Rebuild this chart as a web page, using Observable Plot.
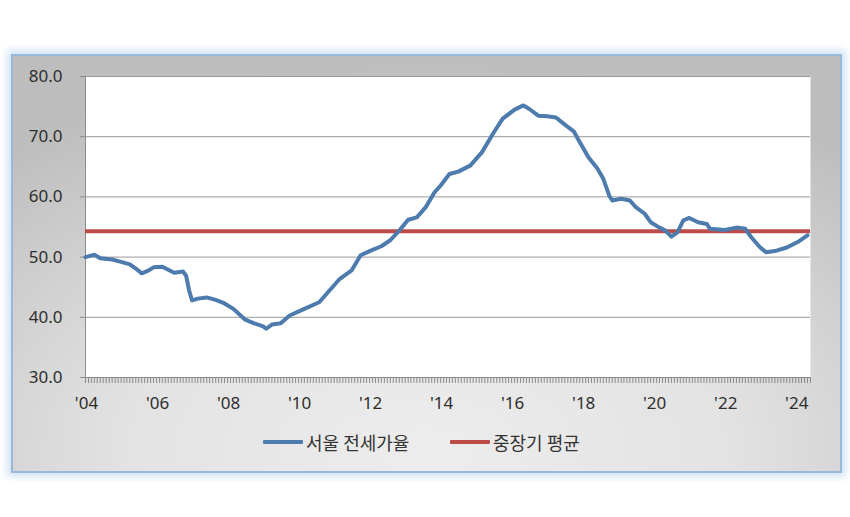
<!DOCTYPE html>
<html>
<head>
<meta charset="utf-8">
<script src="https://cdn.jsdelivr.net/npm/d3@7"></script>
<script src="https://cdn.jsdelivr.net/npm/@observablehq/plot@0.6"></script>
<style>
  html, body { margin: 0; padding: 0; background: #ffffff; }
  body { width: 850px; height: 517px; position: relative; overflow: hidden; font-family: "Noto Sans", "Noto Sans CJK KR", sans-serif; }
  #frame {
    position: absolute; left: 11px; top: 54px; width: 827px; height: 415px;
    border: 2px solid #9ab7dc;
    box-shadow: 0 0 8px 4px #d3e3f5;
    background: radial-gradient(ellipse 80% 95% at 50% 96%, #ededed 0%, #e3e3e3 45%, #c7c7c7 85%, #bdbdbd 100%);
  }
  #chart { position: absolute; left: 0; top: 50px; }
  .legend { position: absolute; top: 430px; height: 24px; display: flex; align-items: center; font-family: "Noto Sans CJK KR", sans-serif; font-size: 18px; color: #333; }
  .swatch { width: 40px; height: 4px; margin-right: 3px; border-radius: 1px; }
</style>
</head>
<body>
<div id="frame"></div>
<div id="chart"></div>
<div id="legend"></div>
<script>
// Seoul jeonse-to-sale price ratio (%)
const dates = [
  "2004-01","2004-04","2004-06","2004-10","2005-01","2005-04","2005-06","2005-08","2005-10","2005-12",
  "2006-03","2006-05","2006-07","2006-10","2006-11","2006-12","2007-01","2007-03","2007-06","2007-09",
  "2007-12","2008-03","2008-07","2008-10","2009-01","2009-02","2009-04","2009-07","2009-10","2010-03",
  "2010-08","2010-11","2011-03","2011-07","2011-10","2012-01","2012-05","2012-08","2012-11","2013-02",
  "2013-05","2013-08","2013-11","2014-01","2014-04","2014-07","2014-11","2015-03","2015-07","2015-10",
  "2016-02","2016-05","2016-07","2016-10","2017-01","2017-04","2017-07","2017-10","2017-12","2018-03",
  "2018-06","2018-08","2018-10","2018-11","2019-02","2019-05","2019-07","2019-10","2019-12","2020-03",
  "2020-05","2020-07","2020-09","2020-11","2021-01","2021-04","2021-07","2021-08","2022-01","2022-05",
  "2022-08","2022-10","2023-01","2023-03","2023-06","2023-10","2024-02","2024-05"
];
const values = [
  50.0, 50.4, 49.8, 49.6, 49.2, 48.8, 48.1, 47.3, 47.7, 48.3,
  48.4, 47.9, 47.4, 47.6, 46.9, 44.5, 42.8, 43.1, 43.3, 42.9,
  42.3, 41.4, 39.6, 39.0, 38.5, 38.1, 38.8, 39.0, 40.3, 41.4,
  42.5, 44.2, 46.4, 47.8, 50.3, 51.0, 51.8, 52.8, 54.4, 56.2,
  56.6, 58.3, 60.8, 61.9, 63.8, 64.2, 65.2, 67.4, 70.7, 73.0,
  74.5, 75.2, 74.6, 73.5, 73.4, 73.2, 72.0, 70.9, 69.1, 66.6,
  64.7, 63.0, 60.2, 59.4, 59.7, 59.4, 58.3, 57.2, 55.8, 54.9,
  54.4, 53.4, 54.1, 56.1, 56.5, 55.8, 55.5, 54.7, 54.5, 54.9,
  54.7, 53.3, 51.6, 50.8, 51.0, 51.6, 52.6, 53.6
];
const longTermAverage = 54.3;
const yTicks = [30, 40, 50, 60, 70, 80];
const xTickYears = [2004, 2006, 2008, 2010, 2012, 2014, 2016, 2018, 2020, 2022, 2024];
const xStart = "2004-01-01";
const xEnd = "2024-06-01";
const seriesNames = ["서울 전세가율", "중장기 평균"];
const seriesColors = ["#4d7bad", "#bd4b48"];

const data = dates.map((d, i) => ({date: new Date(d + "-01"), value: values[i]}));
const domainX = [new Date(xStart), new Date(xEnd)];
const monthTicks = d3.utcMonths(domainX[0], d3.utcDay.offset(domainX[1], 1));
const yearTicks = xTickYears.map(y => new Date(Date.UTC(y, 0, 1)));

const chart = Plot.plot({
  width: 850,
  height: 380,
  marginLeft: 85,
  marginRight: 40,
  marginTop: 26,
  marginBottom: 53,
  x: {type: "utc", domain: domainX},
  y: {domain: [30, 80]},
  style: {background: "transparent", fontFamily: "'Noto Sans', sans-serif", fontSize: "17px", color: "#2e2e2e"},
  marks: [
    Plot.frame({fill: "white", stroke: "none"}),
    Plot.gridY(yTicks.filter(t => t > 30), {stroke: "#9a9a9a", strokeOpacity: 1, strokeWidth: 1}),
    Plot.axisY({ticks: yTicks, tickFormat: d => d.toFixed(1), tickSize: 5, tickPadding: 18, stroke: "#8c8c8c", label: null}),
    Plot.axisX({ticks: monthTicks, tickFormat: () => "", tickSize: 6, stroke: "#8a8a8a", label: null}),
    Plot.axisX({ticks: yearTicks, tickFormat: d => "'" + String(d.getUTCFullYear()).slice(2), tickSize: 0, tickPadding: 19, dx: 1, label: null}),
    Plot.ruleY([30], {stroke: "#8c8c8c"}),
    Plot.ruleX([domainX[0]], {stroke: "#8c8c8c"}),
    Plot.ruleY([longTermAverage], {stroke: seriesColors[1], strokeWidth: 4}),
    Plot.line(data, {x: "date", y: "value", stroke: seriesColors[0], strokeWidth: 4, strokeLinejoin: "round", strokeLinecap: "round"})
  ]
});
document.getElementById("chart").appendChild(chart);

const legendPos = [263, 450];
const legend = document.getElementById("legend");
seriesNames.forEach((name, i) => {
  const item = document.createElement("div");
  item.className = "legend";
  item.style.left = legendPos[i] + "px";
  const sw = document.createElement("div");
  sw.className = "swatch";
  sw.style.background = seriesColors[i];
  const tx = document.createElement("span");
  tx.textContent = name;
  item.appendChild(sw);
  item.appendChild(tx);
  legend.appendChild(item);
});
</script>
</body>
</html>
